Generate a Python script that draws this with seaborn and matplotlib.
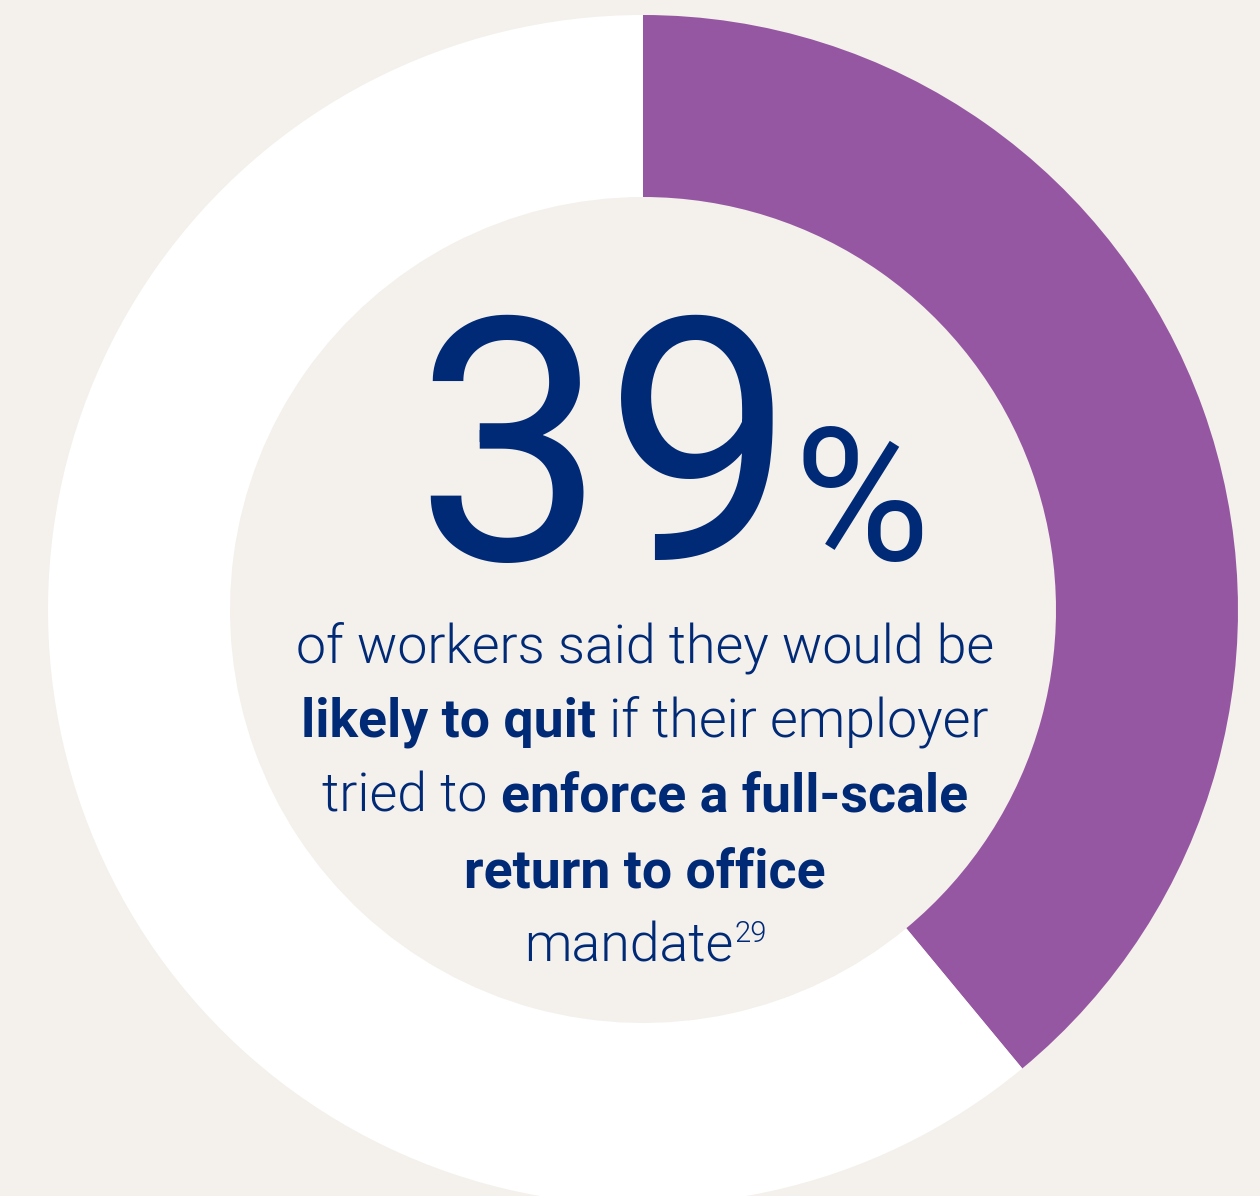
import matplotlib
matplotlib.use("Agg")
import matplotlib.pyplot as plt
import seaborn as sns

# data
segments = ["likely to quit", "rest"]
shares = [39, 61]
headline = "39"
headline_unit = "%"
body_lines = [
    [("of workers said they would be", 300)],
    [("likely to quit", "bold"), (" if their employer", 300)],
    [("tried to ", 300), ("enforce a full-scale", "bold")],
    [("return to office", "bold")],
    [("mandate", 300)],
]
footnote = "29"

bg = "#F4F0EC"
navy = "#002A76"
ring_colors = ["#9557A2", "#FFFFFF"]

sns.set_theme(style="white")
plt.rcParams["font.family"] = ["Roboto", "DejaVu Sans"]

W, H = 1260, 1196
fig = plt.figure(figsize=(W / 100, H / 100), dpi=100, facecolor=bg)
ax = fig.add_axes([0, 0, 1, 1])
ax.set_facecolor(bg)

cx, cy = 643, H - 610
R = 595
ax.pie(shares, colors=ring_colors, startangle=90, counterclock=False,
       center=(cx, cy), radius=R, frame=True,
       wedgeprops=dict(width=R - 413, linewidth=0))
ax.set_xlim(0, W)
ax.set_ylim(0, H)
ax.set_aspect("equal")
ax.axis("off")

fig.canvas.draw()
renderer = fig.canvas.get_renderer()


def place_line(parts, y, size, center_x=645):
    # draw pieces left to right, then shift so the line is centred
    texts = []
    for s, w in parts:
        t = ax.text(0, y, s, fontsize=size, fontweight=w, color=navy,
                    ha="left", va="baseline")
        texts.append(t)
    widths = [t.get_window_extent(renderer=renderer).width for t in texts]
    x = center_x - sum(widths) / 2
    for t, w in zip(texts, widths):
        t.set_x(x)
        x += w
    return x


# headline number
big = ax.text(0, H - 560, headline, fontsize=244, color=navy,
              ha="left", va="baseline", fontweight="normal")
pct = ax.text(0, H - 560, headline_unit, fontsize=134, color=navy,
              ha="left", va="baseline", fontweight="normal")
bw = big.get_window_extent(renderer=renderer).width
pw = pct.get_window_extent(renderer=renderer).width
gap = -2
x0 = 672 - (bw + gap + pw) / 2
big.set_x(x0)
pct.set_x(x0 + bw + gap)

baselines = [662, 737, 812, 887, 962]
for parts, yb in zip(body_lines, baselines):
    end = place_line(parts, H - yb, 38.6)

# footnote marker after "mandate"
last = ax.texts[-1]
last.set_x(last.get_position()[0] - 16)
end = end - 16
ax.text(end + 1, H - 962 + 20, footnote, fontsize=21, color=navy,
        fontweight=300, ha="left", va="baseline")

fig.savefig("out.png", dpi=100, facecolor=bg)
